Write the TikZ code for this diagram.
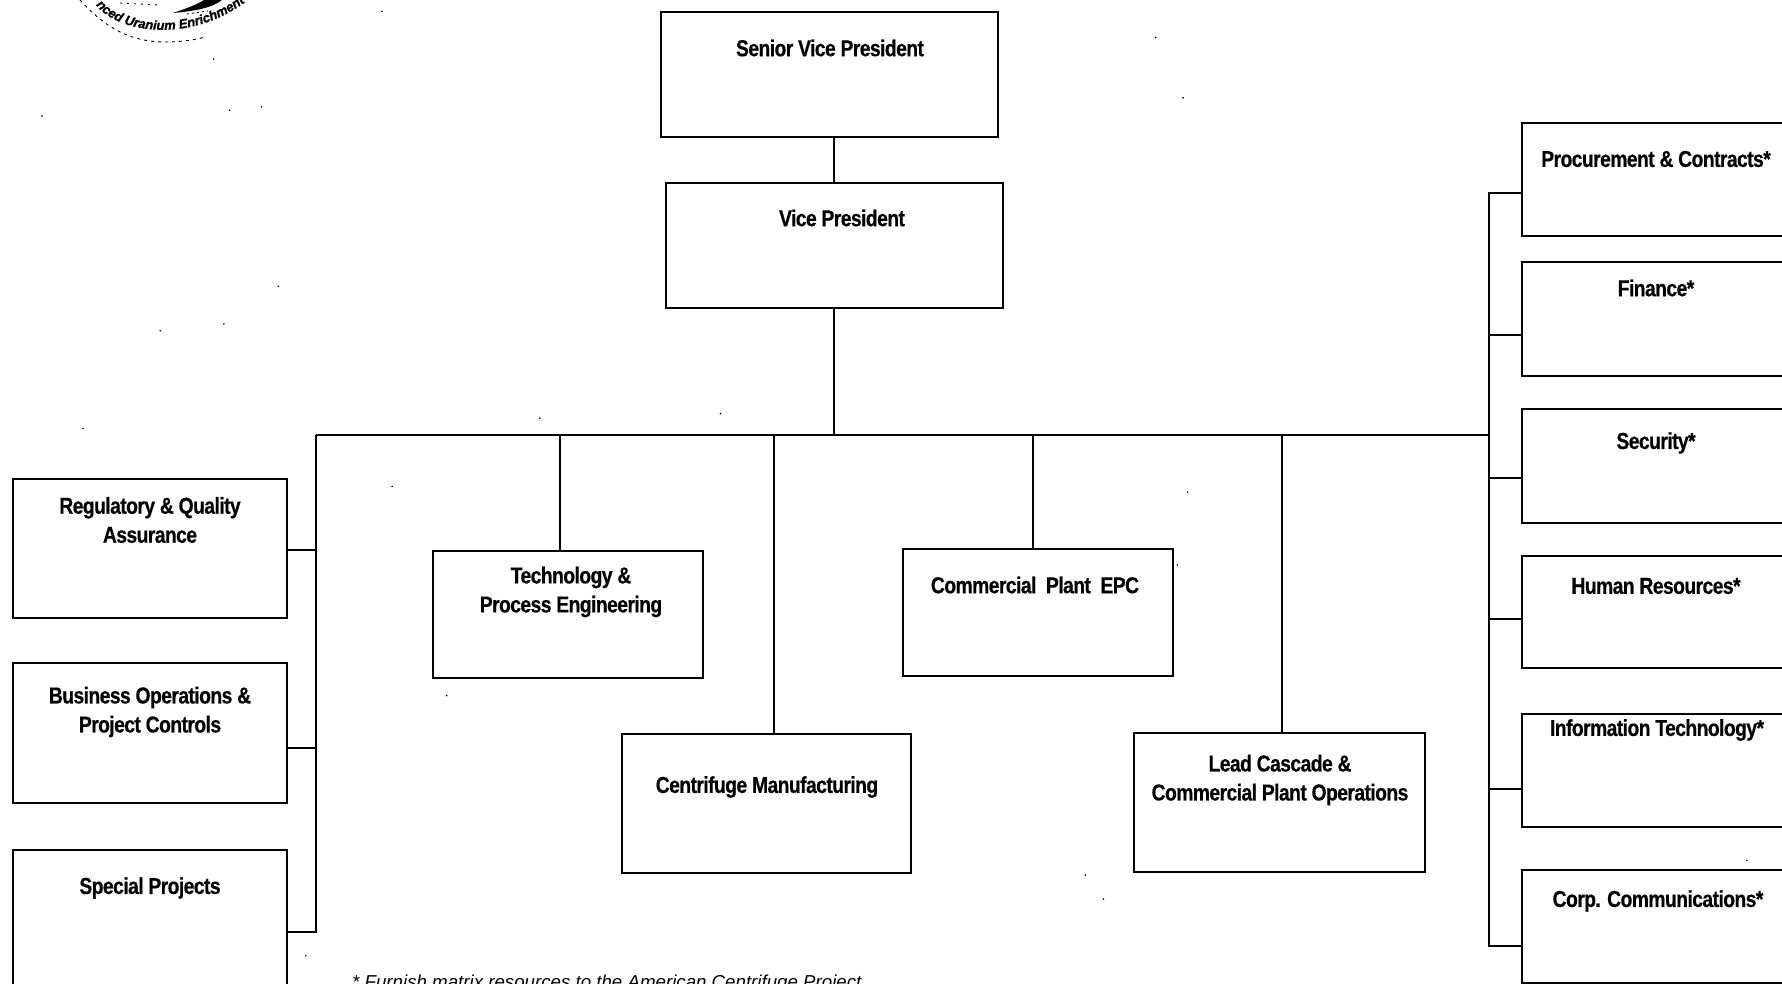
\documentclass[tikz,border=0pt]{standalone}
\usepackage{fontspec}
\usetikzlibrary{decorations.text}
\setmainfont{Liberation Sans}
\newfontfamily\boxfont[FakeStretch=0.84,LetterSpace=-2.5,FakeBold=0.5]{Liberation Sans Bold}
\newfontfamily\logofont[FakeBold=1]{Liberation Sans Bold Italic}
\tikzset{
  x=1pt,y=-1pt,
  orgbox/.style={draw=black,line width=1.9pt,fill=white,inner sep=0pt,outer sep=0pt,anchor=north west},
  boxlabel/.style={font=\boxfont\fontsize{23}{29}\selectfont,align=center,text=black,inner sep=0pt,anchor=center},
  link/.style={draw=black,line width=1.9pt},
}
\newcommand{\orgnode}[5]{\node[orgbox,minimum width=#4pt,minimum height=#5pt] (#1) at (#2,#3) {};}
\begin{document}
\begin{tikzpicture}
\useasboundingbox (0,0) rectangle (1782,984);
\clip (0,0) rectangle (1782,984);
\fill[white] (0,0) rectangle (1782,984);
% logo
\draw[black,line width=0.9pt,dash pattern=on 3pt off 4pt] (80,0) .. controls (100,22) and (125,42) .. (165,42) .. controls (180,42) and (195,40) .. (205,37);
\draw[black,line width=0.9pt,dash pattern=on 2pt off 5pt] (120,3) -- (158,5);
\draw[black,line width=0.9pt,dash pattern=on 2pt off 3pt] (187,14) -- (208,11);
\fill[black] (173,13) .. controls (188,8) and (198,4) .. (204,0) -- (222,0) .. controls (212,8) and (195,11) .. (173,13) -- cycle;
\path[decorate,decoration={text along path,text align=left,
   text={|\logofont\fontsize{13}{14}\selectfont|nced Uranium Enrichment}}]
   (96,5) .. controls (118,34) and (200,48) .. (262,-12);
% scan specks
\foreach \sx/\sy in {336/10,37/102,202/97,230/94,245/252,141/291,197/285,73/377,345/428,218/444,91/508,108/533,124/533,393/612,610/667,718/660,955/770,971/791,269/841,66/850,1017/33,1041/86,1452/203,1537/757,1036/497,1045/433,634/364,475/368,188/52}
  \fill[black] ({\sx*1.1365},{\sy*1.1365}) circle (0.9pt);
\draw[black,line width=0.8pt] (1760,423) -- (1754,425);
\draw[black,line width=0.8pt] (1740,630) .. controls (1734,632) and (1732,634) .. (1731,639);
% boxes
\orgnode{svp}{661}{12}{337}{125}
\orgnode{vp}{666}{183}{337}{125}
\orgnode{proc}{1522}{123}{300}{113}
\orgnode{fin}{1522}{262}{300}{114}
\orgnode{sec}{1522}{409}{300}{114}
\orgnode{hr}{1522}{556}{300}{112}
\orgnode{it}{1522}{714}{300}{113}
\orgnode{corp}{1522}{870}{300}{113}
\orgnode{reg}{13}{479}{274}{139}
\orgnode{bus}{13}{663}{274}{140}
\orgnode{spec}{13}{850}{274}{160}
\orgnode{tech}{433}{551}{270}{127}
\orgnode{epc}{903}{549}{270}{127}
\orgnode{cent}{622}{734}{289}{139}
\orgnode{lead}{1134}{733}{291}{139}
% labels
\node[boxlabel] (tsvp) at (830,48) {Senior Vice President};
\node[boxlabel] (tvp) at (842,218) {Vice President};
\node[boxlabel] (tproc) at (1656,159) {Procurement \& Contracts*};
\node[boxlabel] (tfin) at (1656,288) {Finance*};
\node[boxlabel] (tsec) at (1656,443) {Security*};
\node[boxlabel] (thr) at (1656,586) {Human Resources*};
\node[boxlabel] (tit) at (1657,730) {Information Technology*};
\node[boxlabel] (tcorp) at (1658,901) {Corp. Communications*};
\node[boxlabel] (treg) at (150,520) {Regulatory \& Quality\\Assurance};
\node[boxlabel] (tbus) at (150,712) {Business Operations \&\\Project Controls};
\node[boxlabel] (tspec) at (150,888) {Special Projects};
\node[boxlabel] (ttech) at (571,592) {Technology \&\\Process Engineering};
\node[boxlabel] (tepc) at (1035,585) {Commercial\ \ Plant\ \ EPC};
\node[boxlabel] (tcent) at (767,787) {Centrifuge Manufacturing};
\node[boxlabel] (tlead) at (1280,780) {Lead Cascade \&\\Commercial Plant Operations};
\node[font=\fontsize{18.7}{22}\selectfont\itshape,anchor=base west,inner sep=0pt] (note) at (352,988) {* Furnish matrix resources to the American Centrifuge Project};
% connectors
\coordinate (top) at (834,435);
\coordinate (lft) at (316,435);
\coordinate (rgt) at (1489,435);
\coordinate (d1) at (560,435);
\coordinate (d2) at (774,435);
\coordinate (d3) at (1033,435);
\coordinate (d4) at (1282,435);
\coordinate (rtop) at (1489,193);
\coordinate (rbot) at (1489,946);
\coordinate (lbot) at (316,932);
\coordinate (r2) at (1489,335);
\coordinate (r3) at (1489,478);
\coordinate (r4) at (1489,619);
\coordinate (r5) at (1489,789);
\coordinate (l1) at (316,550);
\coordinate (l2) at (316,748);
\draw[link] (top |- svp.south) -- (top |- vp.north);
\draw[link] (top |- vp.south) -- (top);
\draw[link] (lft) -- (rgt);
\draw[link] (d1) -- (d1 |- tech.north);
\draw[link] (d2) -- (d2 |- cent.north);
\draw[link] (d3) -- (d3 |- epc.north);
\draw[link] (d4) -- (d4 |- lead.north);
\draw[link] (lft) -- (lbot) -- (lbot -| spec.east);
\draw[link] (l1) -- (l1 -| reg.east);
\draw[link] (l2) -- (l2 -| bus.east);
\draw[link] (rtop -| proc.west) -- (rtop) -- (rbot) -- (rbot -| corp.west);
\draw[link] (r2) -- (r2 -| fin.west);
\draw[link] (r3) -- (r3 -| sec.west);
\draw[link] (r4) -- (r4 -| hr.west);
\draw[link] (r5) -- (r5 -| it.west);
\end{tikzpicture}
\end{document}
